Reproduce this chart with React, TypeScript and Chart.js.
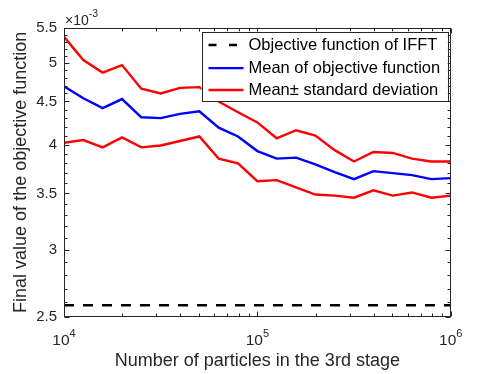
import React, { useEffect, useRef } from "react";
import { Chart, registerables } from "chart.js";

Chart.register(...registerables);

// ---- Data ----
const particles = [
  10000, 12589, 15849, 19953, 25119, 31623, 39811, 50119, 63096, 79433,
  100000, 125893, 158489, 199526, 251189, 316228, 398107, 501187, 630957, 794328, 1000000,
];
// values in units of 1e-3
const meanValues = [
  4.69, 4.54, 4.42, 4.53, 4.31, 4.30, 4.35, 4.38, 4.19, 4.09,
  3.93, 3.85, 3.86, 3.79, 3.71, 3.64, 3.72, 3.70, 3.68, 3.64, 3.65,
];
const upperValues = [
  5.37, 5.04, 4.87, 4.97, 4.66, 4.60, 4.67, 4.68, 4.50, 4.37,
  4.25, 4.07, 4.16, 4.10, 3.94, 3.82, 3.92, 3.91, 3.85, 3.82, 3.82,
];
const lowerValues = [
  4.02, 4.05, 3.97, 4.08, 3.97, 3.99, 4.04, 4.09, 3.85, 3.80,
  3.62, 3.63, 3.56, 3.49, 3.48, 3.46, 3.53, 3.48, 3.51, 3.46, 3.48,
];
const ifftValue = 2.58;

const yTicks = [2.5, 3, 3.5, 4, 4.5, 5, 5.5];
const yMinorTicks = [
  2.6, 2.7, 2.8, 2.9, 3.1, 3.2, 3.3, 3.4, 3.6, 3.7, 3.8, 3.9, 4.1, 4.2, 4.3, 4.4,
  4.6, 4.7, 4.8, 4.9, 5.1, 5.2, 5.3, 5.4,
];
const xMajorTicks = [10000, 100000, 1000000];
const xTickExponents = ["4", "5", "6"];
const xMinorTicks = [
  20000, 30000, 40000, 50000, 60000, 70000, 80000, 90000,
  200000, 300000, 400000, 500000, 600000, 700000, 800000, 900000,
];
const yExponentLabel = "-3";

const legendLabels = [
  "Objective function of IFFT",
  "Mean of objective function",
  "Mean\u00b1 standard deviation",
];

const FONT = "'Liberation Sans', Arial, Helvetica, sans-serif";
const AXIS = "#262626";

const overlayPlugin = {
  id: "overlay",
  afterDatasetsDraw(chart: any) {
    const { ctx, chartArea: a, scales } = chart;
    const xs = scales.x;
    const ys = scales.y;
    ctx.save();
    ctx.strokeStyle = AXIS;
    ctx.lineWidth = 1;
    ctx.setLineDash([]);
    const L = Math.round(a.left) + 0.5;
    const R = Math.round(a.right) - 0.5;
    const T = Math.round(a.top) + 0.5;
    const B = Math.round(a.bottom) - 0.5;
    ctx.strokeRect(L, T, R - L, B - T);

    const major = 5;
    const minor = 3;
    ctx.beginPath();
    const xt = (v: number, len: number) => {
      const p = Math.round(xs.getPixelForValue(v)) + 0.5;
      ctx.moveTo(p, B);
      ctx.lineTo(p, B - len);
      ctx.moveTo(p, T);
      ctx.lineTo(p, T + len);
    };
    const yt = (v: number, len: number) => {
      const p = Math.round(ys.getPixelForValue(v)) + 0.5;
      ctx.moveTo(L, p);
      ctx.lineTo(L + len, p);
      ctx.moveTo(R, p);
      ctx.lineTo(R - len, p);
    };
    xMajorTicks.forEach((v) => xt(v, major));
    xMinorTicks.forEach((v) => xt(v, minor));
    yTicks.forEach((v) => yt(v, major));
    yMinorTicks.forEach((v) => yt(v, minor));
    ctx.stroke();

    // x tick labels with superscripts
    ctx.fillStyle = AXIS;
    ctx.textBaseline = "alphabetic";
    ctx.textAlign = "left";
    xMajorTicks.forEach((v, i) => {
      const p = xs.getPixelForValue(v);
      ctx.font = `15.5px ${FONT}`;
      const w1 = ctx.measureText("10").width;
      ctx.font = `11px ${FONT}`;
      const w2 = ctx.measureText(xTickExponents[i]).width;
      const start = p - (w1 + w2) / 2;
      ctx.font = `15.5px ${FONT}`;
      ctx.fillText("10", start, a.bottom + 28.3);
      ctx.font = `11px ${FONT}`;
      ctx.fillText(xTickExponents[i], start + w1, a.bottom + 20);
    });

    // y exponent label
    ctx.font = `14px ${FONT}`;
    ctx.fillText("\u00d710", a.left + 1, a.top - 3);
    const wx = ctx.measureText("\u00d710").width;
    ctx.font = `10.5px ${FONT}`;
    ctx.fillText(yExponentLabel, a.left + 1 + wx, a.top - 11.3);

    // legend
    ctx.font = `16.5px ${FONT}`;
    const tw = Math.max(...legendLabels.map((t) => ctx.measureText(t).width));
    const bw = 47 + tw + 7.5;
    const bh = 69.3;
    const bx = a.right - 3 - bw;
    const by = a.top + 3.7;
    ctx.fillStyle = "#ffffff";
    ctx.fillRect(bx, by, bw, bh);
    ctx.strokeStyle = AXIS;
    ctx.lineWidth = 1;
    ctx.strokeRect(Math.round(bx) + 0.5, Math.round(by) + 0.5, Math.round(bw), Math.round(bh));
    const rows = [13.3, 36.4, 58.3];
    const colors = ["#000000", "#0000ff", "#ff0000"];
    rows.forEach((dy, i) => {
      const cy = by + dy;
      ctx.beginPath();
      ctx.strokeStyle = colors[i];
      ctx.lineWidth = i === 0 ? 2.5 : 2.4;
      ctx.setLineDash(i === 0 ? [8, 12.5] : []);
      ctx.moveTo(bx + 7, cy);
      ctx.lineTo(bx + 42, cy);
      ctx.stroke();
      ctx.setLineDash([]);
      ctx.fillStyle = "#000000";
      ctx.textBaseline = "middle";
      ctx.font = `16.5px ${FONT}`;
      ctx.fillText(legendLabels[i], bx + 47, cy);
    });
    ctx.restore();
  },
};

export default function App() {
  const ref = useRef<HTMLCanvasElement | null>(null);
  useEffect(() => {
    if (!ref.current) return;
    const pts = (vals: number[]) => particles.map((x, i) => ({ x, y: vals[i] }));
    const chart = new Chart(ref.current, {
      type: "line",
      data: {
        datasets: [
          {
            label: legendLabels[0],
            data: particles.map((x) => ({ x, y: ifftValue })),
            borderColor: "#000000",
            borderWidth: 2.5,
            borderDash: [10, 9],
            pointRadius: 0,
            fill: false,
          },
          {
            label: legendLabels[1],
            data: pts(meanValues),
            borderColor: "#0000ff",
            borderWidth: 2.4,
            pointRadius: 0,
            fill: false,
          },
          {
            label: legendLabels[2],
            data: pts(upperValues),
            borderColor: "#ff0000",
            borderWidth: 2.4,
            pointRadius: 0,
            fill: false,
          },
          {
            label: "lower",
            data: pts(lowerValues),
            borderColor: "#ff0000",
            borderWidth: 2.4,
            pointRadius: 0,
            fill: false,
          },
        ],
      },
      options: {
        animation: false,
        responsive: false,
        devicePixelRatio: 1,
        layout: { padding: { top: 28, right: 47.3, left: 0, bottom: 0 } },
        plugins: { legend: { display: false }, tooltip: { enabled: false } },
        scales: {
          x: {
            type: "logarithmic",
            min: 10000,
            max: 1000000,
            grid: { display: false, drawTicks: false },
            border: { display: false },
            ticks: { display: false },
            afterFit: (s: any) => {
              s.height = 57.3;
            },
            title: {
              display: true,
              text: "Number of particles in the 3rd stage",
              color: AXIS,
              font: { family: FONT, size: 18 },
              padding: { top: 0, bottom: 2.5 },
            },
          },
          y: {
            type: "logarithmic",
            min: 2.5,
            max: 5.5,
            grid: { display: false, drawTicks: false },
            border: { display: false },
            afterBuildTicks: (s: any) => {
              s.ticks = yTicks.map((v) => ({ value: v }));
            },
            afterFit: (s: any) => {
              s.width = 64;
            },
            ticks: {
              autoSkip: false,
              padding: 7,
              color: AXIS,
              font: { family: FONT, size: 15 },
              callback: (v: any) => String(Math.round(Number(v) * 10) / 10),
            },
            title: {
              display: true,
              text: "Final value of the objective function",
              color: AXIS,
              font: { family: FONT, size: 18 },
              padding: { top: 10, bottom: 0 },
            },
          },
        },
      },
      plugins: [overlayPlugin],
    } as any);
    return () => chart.destroy();
  }, []);
  return (
    <div style={{ position: "fixed", left: 0, top: 0, width: 498, height: 374, background: "#fff" }}>
      <canvas ref={ref} width={498} height={374} style={{ width: 498, height: 374 }} />
    </div>
  );
}
